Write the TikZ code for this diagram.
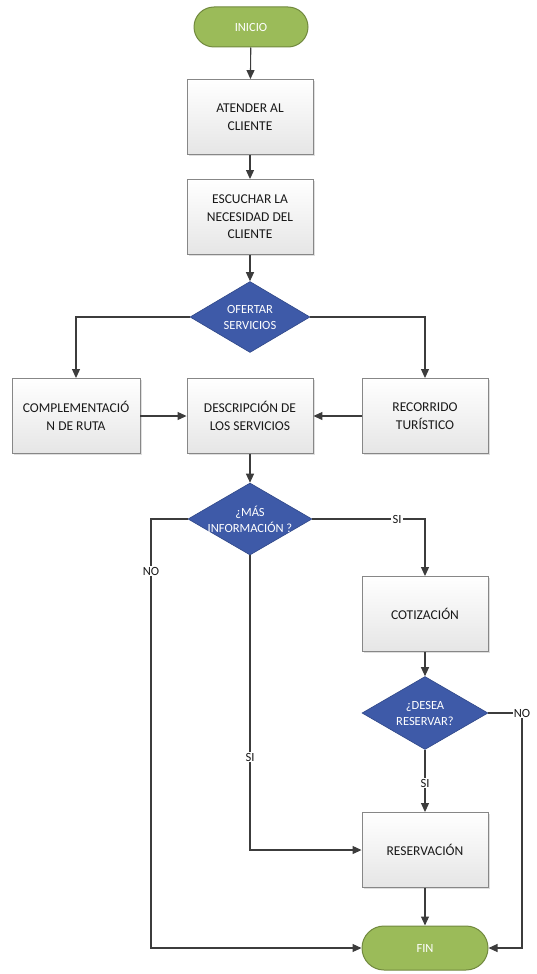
\documentclass[tikz,border=0pt]{standalone}
\usepackage{fontspec}
\setmainfont{Carlito}
\usetikzlibrary{arrows.meta,shapes.geometric,shapes.misc,shadows}

\definecolor{termfill}{RGB}{155,187,89}
\definecolor{termline}{RGB}{113,137,62}
\definecolor{decfill}{RGB}{62,90,168}
\definecolor{decline}{RGB}{48,72,136}
\definecolor{boxline}{RGB}{135,135,135}
\definecolor{flow}{RGB}{60,60,60}

\tikzset{
  terminal/.style={rounded rectangle, draw=termline, line width=1pt, fill=termfill,
    minimum width=114pt, minimum height=40pt, inner sep=0pt, text=white,
    font=\fontsize{12.5}{15}\selectfont},
  procbox/.style={rectangle, draw=boxline, line width=0.9pt,
    top color=white, bottom color=black!10,
    drop shadow={shadow xshift=1.5pt, shadow yshift=-1.5pt, opacity=0.25},
    minimum width=126pt, minimum height=75pt, inner sep=2pt, align=center,
    text=black!90, font=\fontsize{13.5}{17.5}\selectfont},
  decision/.style={diamond, draw=decline, line width=0.6pt, fill=decfill,
    minimum width=124pt, minimum height=72pt, inner sep=0pt},
  dectext/.style={text=white, align=center, font=\fontsize{12.5}{16}\selectfont},
  flowline/.style={draw=flow, line width=1.1pt,
    -{Triangle[length=9pt,width=8pt]}},
  tag/.style={fill=white, inner sep=1.2pt, text=black!90,
    font=\fontsize{12.5}{14}\selectfont},
}

\begin{document}
\begin{tikzpicture}[x=1pt,y=-1pt]
\useasboundingbox (0,0) rectangle (537,974);

% terminals
\node[terminal] (inicio) at (251,27) {INICIO};
\node[terminal, minimum width=126pt, minimum height=44pt] (fin) at (425,948) {FIN};

% process steps
\node[procbox] (atender) at (250,117) {ATENDER AL\\CLIENTE};
\node[procbox] (escuchar) at (250,217) {ESCUCHAR LA\\NECESIDAD DEL\\CLIENTE};
\node[procbox, minimum width=128pt] (compl) at (76,416) {COMPLEMENTACIÓ\\N DE RUTA};
\node[procbox] (descr) at (250,416) {DESCRIPCIÓN DE\\LOS SERVICIOS};
\node[procbox] (recorrido) at (425,416) {RECORRIDO\\TURÍSTICO};
\node[procbox] (cotiz) at (425,614) {COTIZACIÓN};
\node[procbox] (reserva) at (425,850) {RESERVACIÓN};

% decisions
\node[decision, minimum width=120pt, minimum height=71pt] (ofertar) at (250,317) {};
\node[dectext] at (ofertar.center) {OFERTAR\\SERVICIOS};
\node[decision] (masinfo) at (250,519) {};
\node[dectext] at (masinfo.center) {¿MÁS\\INFORMACIÓN ?};
\node[decision, minimum width=126pt, minimum height=73pt] (desea) at (425,713) {};
\node[dectext] at (desea.center) {¿DESEA\\RESERVAR?};

% bend points of the NO branches
\coordinate (noleft) at (151,519);
\coordinate (noright) at (522,713);

% main sequence
\draw[flowline] (inicio) -- (atender);
\draw[flowline] (atender) -- (escuchar);
\draw[flowline] (escuchar) -- (ofertar);
\draw[flowline] (ofertar.west) -| (compl.north);
\draw[flowline] (ofertar.east) -| (recorrido.north);
\draw[flowline] (compl.east) -- (descr.west);
\draw[flowline] (recorrido.west) -- (descr.east);
\draw[flowline] (descr) -- (masinfo);

% more information?
\draw[flowline] (masinfo.west) -- (noleft) |- (fin.west);
\node[tag] (tnoleft) at (151,571) {NO};
\draw[flowline] (masinfo.east) -| (cotiz.north);
\node[tag] (tsimas) at (397,519) {SI};
\draw[flowline] (masinfo.south) |- (reserva.west);
\node[tag] (tsidown) at (250,757) {SI};

% quotation and booking
\draw[flowline] (cotiz) -- (desea);
\draw[flowline] (desea.east) -- (noright) |- (fin.east);
\node[tag] (tnoright) at (522,713) {NO};
\draw[flowline] (desea.south) -- (reserva.north);
\node[tag] (tsires) at (425,783) {SI};
\draw[flowline] (reserva) -- (fin);
\end{tikzpicture}
\end{document}
